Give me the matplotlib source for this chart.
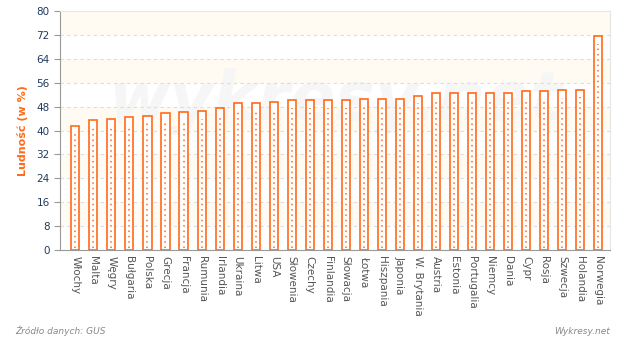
import matplotlib.pyplot as plt
import numpy as np

countries = ['Włochy', 'Malta', 'Węgry', 'Bułgaria', 'Polska', 'Grecja', 'Francja',
             'Rumunia', 'Irlandia', 'Ukraina', 'Litwa', 'USA', 'Słowenia', 'Czechy',
             'Finlandia', 'Słowacja', 'Łotwa', 'Hiszpania', 'Japonia', 'W. Brytania',
             'Austria', 'Estonia', 'Portugalia', 'Niemcy', 'Dania', 'Cypr', 'Rosja',
             'Szwecja', 'Holandia', 'Norwegia']
values = [41.6, 43.4, 43.7, 44.4, 45.0, 45.7, 46.1, 46.4, 47.4, 49.1, 49.1, 49.4,
          50.1, 50.1, 50.1, 50.1, 50.4, 50.4, 50.7, 51.7, 52.4, 52.4, 52.4, 52.4,
          52.7, 53.1, 53.1, 53.4, 53.7, 71.5]
y_ticks = [0, 8, 16, 24, 32, 40, 48, 56, 64, 72, 80]

orange = '#FF6A1A'
cream = '#FFFBF2'

fig = plt.figure(figsize=(6.2, 3.37), dpi=100)
ax = fig.add_axes([60 / 620, 87 / 337, 550 / 620, 239 / 337])

x = np.arange(len(countries))

# alternating background bands
for lo in range(8, 80, 16):
    ax.axhspan(lo, lo + 8, color=cream, zorder=0, lw=0)

# watermark
ax.text(0.5, 0.62, 'wykresy.net', transform=ax.transAxes, ha='center', va='center',
        fontsize=48, fontweight='bold', style='italic', color='#F6F6F6', zorder=1)

for t in y_ticks[1:-1]:
    ax.axhline(t, color='#DDDDDD', lw=0.8, ls=(0, (3, 3)), zorder=1)

ax.bar(x, values, width=0.45, facecolor='white', edgecolor=orange, linewidth=1.2, zorder=3)
ax.vlines(x, 0.8, np.array(values) - 2.5, colors=orange, linestyles=(0, (1, 2.5)),
          linewidth=1.1, zorder=4)

ax.set_xlim(-0.85, len(countries) - 0.35)
ax.set_ylim(0, 80)
ax.set_yticks(y_ticks)
ax.set_xticks(x)
ax.set_xticklabels(countries, rotation=270, fontsize=7.5, color='#555555')
ax.tick_params(axis='y', labelsize=7.5, labelcolor='#1F3B5F', length=4, color='#999999')
ax.tick_params(axis='x', length=0, pad=4)

ax.spines['left'].set_color('#999999')
ax.spines['bottom'].set_color('#999999')
ax.spines['top'].set_color('#E6E6E6')
ax.spines['right'].set_color('#E6E6E6')

ax.set_ylabel('Ludność (w %)', color=orange, fontsize=8, fontweight='bold', labelpad=6)

fig.text(15 / 620, 1 - 331 / 337, 'Źródło danych: GUS', fontsize=6.5, style='italic',
         color='#888888', va='center')
fig.text(610 / 620, 1 - 331 / 337, 'Wykresy.net', fontsize=6.5, style='italic',
         color='#888888', va='center', ha='right')

fig.savefig('out.png', dpi=100)
